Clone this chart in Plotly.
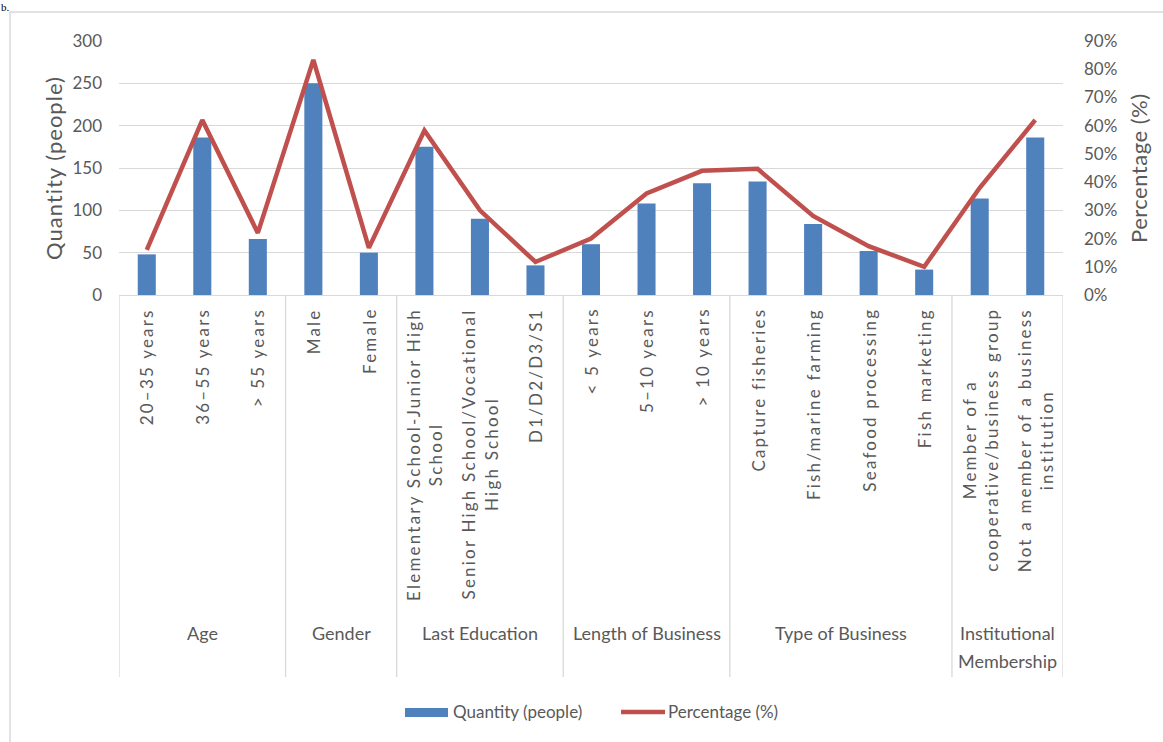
import plotly.graph_objects as go

# ---------------- data ----------------
groups = ["Age", "Gender", "Last Education", "Length of Business",
          "Type of Business", "Institutional<br>Membership"]
group_sizes = [3, 2, 3, 3, 4, 2]
categories = [
    "20–35 years", "36–55 years", "> 55 years",
    "Male", "Female",
    "Elementary School-Junior High<br>School",
    "Senior High School/Vocational<br>High School",
    "D1/D2/D3/S1",
    "< 5 years", "5–10 years", "> 10 years",
    "Capture fisheries", "Fish/marine farming", "Seafood processing", "Fish marketing",
    "Member of a<br>cooperative/business group",
    "Not a member of a business<br>institution",
]
quantity = [48, 186, 66, 250, 50, 175, 90, 35, 60, 108, 132, 134, 84, 52, 30, 114, 186]
percentage = [16, 62, 22, 83.3, 16.7, 58.3, 30, 11.7, 20, 36, 44, 44.7, 28, 17.3, 10, 38, 62]
left_ticks = [0, 50, 100, 150, 200, 250, 300]
right_ticks = [0, 10, 20, 30, 40, 50, 60, 70, 80, 90]
right_ticktext = [f"{v}%" for v in right_ticks]

# ---------------- layout helpers ----------------
W, H = 1163, 742
L, R, T, B = 119, 1063, 41, 295
PW, PH = R - L, B - T


def xp(px):
    return (px - L) / PW


def yp(py):
    return (B - py) / PH


TEXT = "#595959"
GRID = "#D9D9D9"
FONT = "Lato"
BLUE = "#4F81BD"
RED = "#C0504D"

fig = go.Figure()
fig.add_trace(go.Bar(
    x=categories, y=quantity, name="Quantity (people)",
    marker=dict(color=BLUE, line_width=0), yaxis="y", showlegend=False,
))
fig.add_trace(go.Scatter(
    x=categories, y=percentage, name="Percentage (%)", mode="lines",
    line=dict(color=RED, width=4.5), yaxis="y2", showlegend=False,
))

annotations = []
shapes = []

# category labels (rotated)
for c in categories:
    annotations.append(dict(
        x=c, xref="x", y=yp(306), yref="paper", xanchor="center", yanchor="top",
        textangle=-90, showarrow=False,
        text=f'<span style="letter-spacing:2.2px">{c}</span>',
        font=dict(family=FONT, size=17, color=TEXT),
    ))

# group labels and dividers
bounds = [0]
for s in group_sizes:
    bounds.append(bounds[-1] + s)
for g, a, b in zip(groups, bounds[:-1], bounds[1:]):
    center = (a + b) / 2 - 0.5
    for j, line in enumerate(g.split("<br>")):
        annotations.append(dict(
            x=center, xref="x", y=yp(620 + 28 * j), yref="paper",
            xanchor="center", yanchor="top", showarrow=False, text=line,
            font=dict(family=FONT, size=18, color=TEXT),
        ))
for bnd in bounds:
    shapes.append(dict(
        type="line", xref="x", yref="paper", x0=bnd - 0.5, x1=bnd - 0.5,
        y0=yp(295), y1=yp(677), line=dict(color=GRID, width=1.3),
    ))

# axis titles
annotations.append(dict(
    x=xp(53), xref="paper", y=yp(168), yref="paper", textangle=-90,
    showarrow=False, text='<span style="letter-spacing:1px">Quantity (people)</span>',
    xanchor="center", yanchor="middle",
    font=dict(family=FONT, size=22, color=TEXT),
))
annotations.append(dict(
    x=xp(1138), xref="paper", y=yp(168), yref="paper", textangle=-90,
    showarrow=False, text='<span style="letter-spacing:0.5px">Percentage (%)</span>',
    xanchor="center", yanchor="middle",
    font=dict(family=FONT, size=22, color=TEXT),
))

# custom legend
shapes.append(dict(type="rect", xref="paper", yref="paper",
                   x0=xp(405), x1=xp(448), y0=yp(717), y1=yp(708),
                   fillcolor=BLUE, line=dict(width=0)))
shapes.append(dict(type="line", xref="paper", yref="paper",
                   x0=xp(621), x1=xp(665), y0=yp(712), y1=yp(712),
                   line=dict(color=RED, width=4.5)))
annotations.append(dict(
    x=xp(451), xref="paper", y=yp(712), yref="paper", xanchor="left", yanchor="middle",
    showarrow=False, text="Quantity (people)", font=dict(family=FONT, size=17, color=TEXT),
))
annotations.append(dict(
    x=xp(666), xref="paper", y=yp(712), yref="paper", xanchor="left", yanchor="middle",
    showarrow=False, text="Percentage (%)", font=dict(family=FONT, size=17, color=TEXT),
))

# outer chart border
shapes.append(dict(type="rect", xref="paper", yref="paper",
                   x0=xp(10), x1=xp(1185), y0=yp(12), y1=yp(770),
                   line=dict(color=GRID, width=1.5), fillcolor="rgba(0,0,0,0)", layer="below"))

# caption fragment at the very top-left
annotations.append(dict(
    x=xp(0), xref="paper", y=yp(0), yref="paper", xanchor="left", yanchor="top",
    showarrow=False, text="b.", borderpad=0,
    font=dict(family="Liberation Serif", size=11, color="#000000"),
))

fig.update_layout(
    width=W, height=H,
    margin=dict(l=L, r=W - R, t=T, b=H - B, pad=0),
    paper_bgcolor="white", plot_bgcolor="white",
    bargap=0.675,
    xaxis=dict(type="category", showticklabels=False, showgrid=False, ticks="",
               showline=True, linecolor=GRID, linewidth=1.3,
               range=[-0.5, len(categories) - 0.5]),
    yaxis=dict(range=[0, 300], tickvals=left_ticks, showgrid=True, gridcolor=GRID,
               gridwidth=1.3, zeroline=False, showline=False, ticks="",
               ticklabelstandoff=16, tickfont=dict(family=FONT, size=17, color=TEXT)),
    yaxis2=dict(range=[0, 90], tickvals=right_ticks, ticktext=right_ticktext,
                overlaying="y", side="right", showgrid=False, zeroline=False,
                showline=False, ticks="", ticklabelstandoff=20,
                tickfont=dict(family=FONT, size=17, color=TEXT)),
    annotations=annotations,
    shapes=shapes,
    showlegend=False,
)

fig.write_html("out.html")
